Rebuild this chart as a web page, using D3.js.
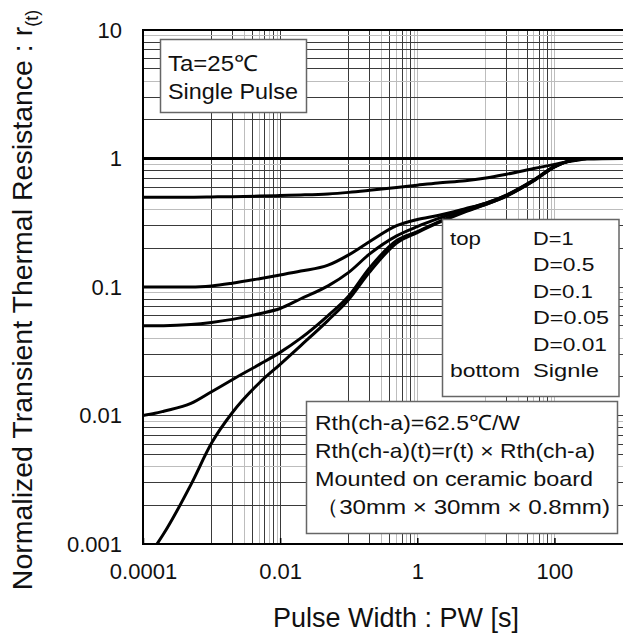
<!DOCTYPE html>
<html><head><meta charset="utf-8">
<script src="https://cdn.jsdelivr.net/npm/d3@7"></script>
<style>
body{margin:0;background:#fff}
svg{display:block}
text{font-family:"Liberation Sans",Arial,Helvetica,sans-serif;fill:#111}
</style>
</head><body>
<svg id="c" width="623" height="637"></svg>
<script>
// ---- data ----
const pulseWidth = [0.0001,0.00015,0.0002,0.0005,0.001,0.002,0.005,0.01,0.02,0.05,0.1,0.2,0.5,1,2,5,10,20,50,100,200,300,1000];
const rD1     = [1,1,1,1,1,1,1,1,1,1,1,1,1,1,1,1,1,1,1,1,1,1,1];
const rD05    = [0.5,0.5,0.5,0.5,0.502,0.505,0.51,0.515,0.52,0.53,0.545,0.565,0.595,0.62,0.645,0.67,0.705,0.755,0.835,0.90,0.965,0.99,1];
const rD01    = [0.1,0.1,0.1,0.1,0.102,0.107,0.116,0.124,0.133,0.148,0.178,0.225,0.30,0.335,0.36,0.407,0.45,0.52,0.68,0.87,0.98,1,1];
const rD005   = [0.05,0.05,0.05,0.051,0.053,0.056,0.062,0.068,0.081,0.102,0.13,0.18,0.25,0.295,0.34,0.40,0.45,0.52,0.68,0.86,0.98,1,1];
const rD001   = [0.01,0.0104,0.0108,0.0124,0.0153,0.019,0.025,0.031,0.04,0.06,0.085,0.14,0.23,0.27,0.32,0.39,0.44,0.51,0.67,0.86,0.98,1,1];
const rSingle = [null,0.00095,0.0012,0.0029,0.0061,0.0105,0.018,0.025,0.035,0.055,0.08,0.13,0.22,0.265,0.315,0.385,0.44,0.51,0.67,0.86,0.98,1,1];
const seriesNames = ["D=1","D=0.5","D=0.1","D=0.05","D=0.01","Single"];
const seriesValues = [rD1,rD05,rD01,rD005,rD001,rSingle];

const xTickValues = [0.0001,0.01,1,100];
const xTickLabels = ["0.0001","0.01","1","100"];
const yTickValues = [0.001,0.01,0.1,1,10];
const yTickLabels = ["0.001","0.01","0.1","1","10"];

const xMinorDecades = [0.001,0.1,10];
const xMajorLines = [0.001,0.01,0.1,1,10,100];
const yDecades = [0.001,0.01,0.1,1];
const minorMult = [2,3,4,5,6,7,8,9];

const legendLeft = ["top","","","","","bottom"];
const legendRight = ["D=1","D=0.5","D=0.1","D=0.05","D=0.01","Signle"];
const condLines = ["Rth(ch-a)=62.5\u2103/W","Rth(ch-a)(t)=r(t) \u00d7 Rth(ch-a)","Mounted on ceramic board","\uff0830mm \u00d7 30mm \u00d7 0.8mm)"];

// ---- layout ----
const L=143, R=623, T=30, B=544;
const svg = d3.select("#c");
const x = d3.scaleLog().domain([1e-4,1e3]).range([L,R]);
const y = d3.scaleLog().domain([1e-3,10]).range([B,T]);

const DARK="#3a3a3a", LIGHT="#bdbdbd";
const grid = svg.append("g").attr("shape-rendering","crispEdges");

// vertical grid
xMinorDecades.forEach(d=>{
  minorMult.forEach((m,i)=>{
    const v=d*m;
    grid.append("line").attr("x1",x(v)).attr("x2",x(v)).attr("y1",T).attr("y2",B)
      .attr("stroke", (m%2===1)?LIGHT:DARK).attr("stroke-width",1);
  });
});
xMajorLines.forEach(v=>{
  grid.append("line").attr("x1",x(v)).attr("x2",x(v)).attr("y1",T).attr("y2",B)
    .attr("stroke", v<1?DARK:LIGHT).attr("stroke-width",1);
});
// horizontal grid
yDecades.forEach(d=>{
  minorMult.forEach(m=>{
    const v=d*m;
    grid.append("line").attr("x1",L).attr("x2",R).attr("y1",y(v)).attr("y2",y(v))
      .attr("stroke", (m===9||m===4)?LIGHT:DARK).attr("stroke-width",1);
  });
  if(d>0.001){
    grid.append("line").attr("x1",L).attr("x2",R).attr("y1",y(d)).attr("y2",y(d))
      .attr("stroke",DARK).attr("stroke-width",1);
  }
});

// axes
const xAxis = d3.axisBottom(x).tickValues(xTickValues)
  .tickFormat((d,i)=>xTickLabels[i]).tickSizeInner(-6).tickSizeOuter(0).tickPadding(19);
const gx = svg.append("g").attr("transform",`translate(0,${B})`).call(xAxis);
gx.select(".domain").remove();
gx.selectAll(".tick line").attr("stroke","#000").attr("stroke-width",1.5);
gx.selectAll(".tick text").attr("y",19).attr("dy","0.71em").style("font-size","22px")
  .style("font-family",'"Liberation Sans",Arial,sans-serif').attr("fill","#111");

const yAxis = d3.axisLeft(y).tickValues(yTickValues)
  .tickFormat((d,i)=>yTickLabels[i]).tickSizeInner(0).tickSizeOuter(0).tickPadding(21);
const gy = svg.append("g").attr("transform",`translate(${L},0)`).call(yAxis);
gy.select(".domain").remove();
gy.selectAll(".tick text").style("font-size","22px")
  .style("font-family",'"Liberation Sans",Arial,sans-serif').attr("fill","#111");

// frame
svg.append("path").attr("d",`M${R},${T}H${L}V${B}H${R}`).attr("fill","none")
  .attr("stroke","#000").attr("stroke-width",2);

// curves
svg.append("clipPath").attr("id","clip").append("rect")
  .attr("x",L).attr("y",T).attr("width",R-L).attr("height",B-T);
const line = d3.line()
  .defined(d=>d.v!=null)
  .x(d=>x(d.t)).y(d=>y(d.v))
  .curve(d3.curveMonotoneX);
const gc = svg.append("g").attr("clip-path","url(#clip)");
seriesValues.forEach((vals,k)=>{
  const pts = pulseWidth.map((t,i)=>({t, v: vals[i]}));
  gc.append("path").datum(pts).attr("d",line).attr("fill","none")
    .attr("stroke","#000").attr("stroke-width",3).attr("stroke-linejoin","round")
    .attr("stroke-linecap","round").attr("data-name",seriesNames[k]);
});

// boxes
function box(x0,y0,w,h){
  svg.append("rect").attr("x",x0).attr("y",y0).attr("width",w).attr("height",h)
    .attr("fill","#fff").attr("stroke","#666").attr("stroke-width",1.5);
}
function txt(s,x0,y0,size,len){
  const t = svg.append("text").attr("x",x0).attr("y",y0).style("font-size",size+"px").text(s);
  if(len){ t.attr("textLength",len).attr("lengthAdjust","spacingAndGlyphs"); }
  return t;
}
// box 1
box(160.5,39.5,146,73);
txt("Ta=25\u2103",168,71,22,90);
txt("Single Pulse",168,98.5,22,130);
// box 2
box(442.5,219.5,176.5,177);
const legLen = [40.5,61.5,60,76,74,66];
legendRight.forEach((s,i)=>{
  const yy = 245 + i*26.4;
  if(legendLeft[i]) txt(legendLeft[i],450,yy,19,legendLeft[i]==="top"?31:70);
  txt(s,533,yy,19,legLen[i]);
});
// box 3
box(306.5,401.5,311,132);
const condLen=[205,280,278,295];
condLines.forEach((s,i)=>txt(s,315,430+i*28,21,condLen[i]));

// axis titles
svg.append("text").attr("x",396).attr("y",627).attr("text-anchor","middle")
  .style("font-size","27px").text("Pulse Width : PW [s]");
const yt = svg.append("text").attr("transform","translate(32,300) rotate(-90)")
  .attr("text-anchor","middle").style("font-size","28.5px");
yt.append("tspan").text("Normalized Transient Thermal Resistance : r");
yt.append("tspan").attr("dy",6).style("font-size","18px").text("(t)");
</script>
</body></html>
